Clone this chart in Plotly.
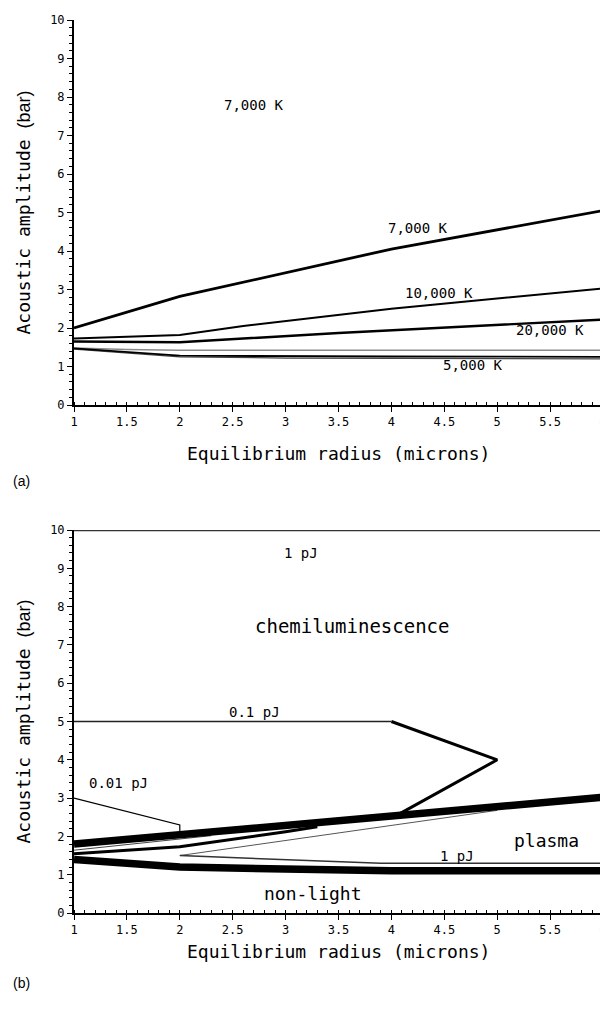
import plotly.graph_objects as go

# page body adds an 8px margin, so the figure is drawn 8px smaller and offset
OFF = 8
W, H = 608 - OFF, 1015 - OFF
MONO = "DejaVu Sans Mono"

# ---------------- panel (a) data ----------------
a7_x = [1, 2, 4, 6]
a7_y = [2.0, 2.82, 4.05, 5.05]
a10_x = [1, 2, 2.6, 4, 6]
a10_y = [1.73, 1.82, 2.05, 2.5, 3.03]
a20_x = [1, 2, 3.5, 6]
a20_y = [1.65, 1.63, 1.87, 2.22]
a5g_x = [1, 1.5, 2, 6]
a5g_y = [1.48, 1.44, 1.42, 1.42]
a5d_x = [1, 2, 4, 6]
a5d_y = [1.47, 1.28, 1.26, 1.25]
a5l_x = [1, 2, 3, 6]
a5l_y = [1.45, 1.25, 1.22, 1.2]

a_labels = ["7,000 K", "7,000 K", "10,000 K", "20,000 K", "5,000 K"]
a_lab_x = [2.70, 4.25, 4.45, 5.5, 4.77]
a_lab_y = [7.78, 4.6, 2.9, 1.95, 1.05]

# ---------------- panel (b) data ----------------
b1pj_x = [1, 6]
b1pj_y = [10, 10]
b01a_x = [1, 4]
b01a_y = [5, 5]
b01b_x = [4, 5, 4.05]
b01b_y = [5, 4, 2.55]
b001_x = [1, 2, 2]
b001_y = [3, 2.3, 2.07]
bup_x = [1, 2, 4, 6]
bup_y = [1.8, 2.05, 2.52, 3.02]
bmed_x = [1, 2, 3, 3.3]
bmed_y = [1.55, 1.73, 2.12, 2.25]
bthin_x = [1, 2.3]
bthin_y = [1.64, 2.02]
bwu_x = [2, 5]
bwu_y = [1.5, 2.68]
bwl_x = [2, 3.9, 6]
bwl_y = [1.5, 1.3, 1.3]
blow_x = [1, 2, 4, 6]
blow_y = [1.4, 1.2, 1.1, 1.1]

b_labels = ["1 pJ", "chemiluminescence", "0.1 pJ", "0.01 pJ", "plasma", "1 pJ", "non-light"]
b_lab_x = [3.15, 3.63, 2.71, 1.42, 5.47, 4.62, 3.26]
b_lab_y = [9.4, 7.5, 5.26, 3.4, 1.9, 1.5, 0.52]
b_lab_size = [14, 19, 14, 14, 18, 14, 18]

x_ticks = [1, 1.5, 2, 2.5, 3, 3.5, 4, 4.5, 5, 5.5, 6]
x_ticktext = ["1", "1.5", "2", "2.5", "3", "3.5", "4", "4.5", "5", "5.5", "6"]
y_ticks = list(range(11))

# ---------------- layout geometry (reference pixels) ----------------
X0, X1 = 74, 603
TOP_A, BOT_A = 20, 405
TOP_B, BOT_B = 530, 913


def py(p):
    return 1 - (p - OFF) / H


def px(p):
    return (p - OFF) / W


fig = go.Figure()


def line(x, y, w, color="black", xa="x", ya="y"):
    fig.add_trace(go.Scatter(x=x, y=y, mode="lines", xaxis=xa, yaxis=ya,
                             line=dict(color=color, width=w),
                             showlegend=False, hoverinfo="skip", cliponaxis=False))


# panel (a)
line(a5g_x, a5g_y, 1.5, "#8a8a8a")
line(a5l_x, a5l_y, 1.2, "#444")
line(a5d_x, a5d_y, 1.8, "black")
line(a20_x, a20_y, 2.4)
line(a10_x, a10_y, 2.0)
line(a7_x, a7_y, 2.8)

# panel (b)
xb, yb = "x2", "y2"
line(b1pj_x, b1pj_y, 2.4, "#333", xb, yb)
line(b01a_x, b01a_y, 1.6, "#222", xb, yb)
line(b01b_x, b01b_y, 3.0, "black", xb, yb)
line(b001_x, b001_y, 1.2, "black", xb, yb)
line(bwu_x, bwu_y, 1.0, "#555", xb, yb)
line(bwl_x, bwl_y, 1.5, "#333", xb, yb)
line(bthin_x, bthin_y, 1.0, "#444", xb, yb)
line(bmed_x, bmed_y, 3.0, "black", xb, yb)
line(bup_x, bup_y, 7.5, "black", xb, yb)
line(blow_x, blow_y, 7.5, "black", xb, yb)

ann = []
for t, x, y in zip(a_labels, a_lab_x, a_lab_y):
    ann.append(dict(text=t, x=x, y=y, xref="x", yref="y", showarrow=False,
                    xanchor="center", yanchor="middle",
                    font=dict(family=MONO, size=14, color="black")))
for t, x, y, s in zip(b_labels, b_lab_x, b_lab_y, b_lab_size):
    ann.append(dict(text=t, x=x, y=y, xref="x2", yref="y2", showarrow=False,
                    xanchor="center", yanchor="middle",
                    font=dict(family=MONO, size=s, color="black")))

ytitle = "Acoustic amplitude <span style='font-family:Liberation Sans'>(bar)</span>"
for top, bot, tag, xt_y, tagy in [(TOP_A, BOT_A, "(a)", 453, 481), (TOP_B, BOT_B, "(b)", 951, 983)]:
    ann.append(dict(text=ytitle, x=px(23), y=py((top + bot) / 2), xref="paper", yref="paper",
                    xanchor="center", yanchor="middle",
                    textangle=-90, showarrow=False, font=dict(family=MONO, size=18, color="black")))
    ann.append(dict(text="Equilibrium radius (microns)", x=px((X0 + X1) / 2), y=py(xt_y),
                    xref="paper", yref="paper", showarrow=False,
                    xanchor="center", yanchor="middle",
                    font=dict(family=MONO, size=18, color="black")))
    ann.append(dict(text=tag, x=px(11), y=py(tagy), xref="paper", yref="paper",
                    xanchor="left", yanchor="middle", showarrow=False,
                    font=dict(family="Liberation Sans", size=14, color="black")))

xax = dict(range=[1, 6], tickvals=x_ticks, ticktext=x_ticktext,
           ticks="outside", ticklen=5, tickwidth=1.2, tickcolor="black",
           minor=dict(dtick=0.1, ticks="inside", ticklen=3, tickcolor="black", tickwidth=1),
           showline=True, linecolor="black", linewidth=1.6, showgrid=False, zeroline=False,
           tickfont=dict(family=MONO, size=12, color="black"), automargin=False,
           ticklabeloverflow="allow",
           domain=[px(X0), px(X1)], fixedrange=True)
yax = dict(range=[0, 10], tickvals=y_ticks,
           ticks="outside", ticklen=5, tickwidth=1.2, tickcolor="black",
           minor=dict(dtick=0.2, ticks="outside", ticklen=3, tickcolor="black", tickwidth=1),
           showline=True, linecolor="black", linewidth=2, showgrid=False, zeroline=False,
           tickfont=dict(family=MONO, size=12, color="black"), automargin=False,
           ticklabeloverflow="allow", fixedrange=True)

fig.update_layout(
    width=W, height=H, margin=dict(l=0, r=0, t=0, b=0),
    paper_bgcolor="white", plot_bgcolor="white", showlegend=False,
    xaxis=dict(xax, anchor="y"),
    yaxis=dict(yax, anchor="x", domain=[py(BOT_A), py(TOP_A)]),
    xaxis2=dict(xax, anchor="y2"),
    yaxis2=dict(yax, anchor="x2", domain=[py(BOT_B), py(TOP_B)]),
    annotations=ann,
)

fig.write_html("out.html")
